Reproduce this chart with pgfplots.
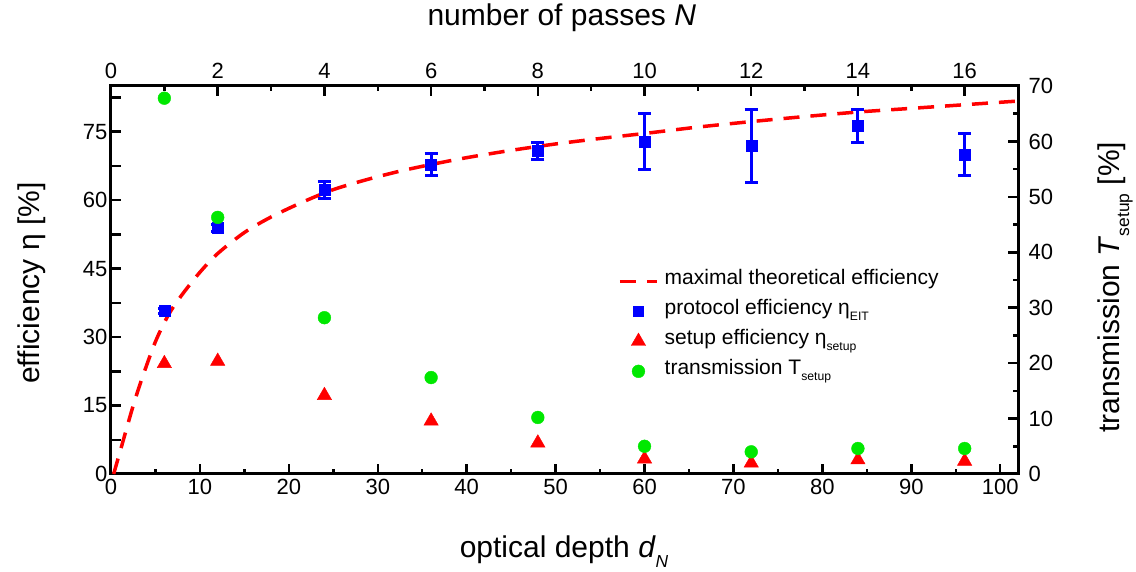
\documentclass[border=0pt]{standalone}
\usepackage{fontspec}
\setmainfont{Liberation Sans}
\usepackage{graphicx}
\usepackage{pgfplots}
\pgfplotsset{compat=1.18}

\definecolor{eitblue}{RGB}{0,0,255}
\definecolor{setupred}{RGB}{255,0,0}
\definecolor{transgreen}{RGB}{0,232,0}

% small lowered subscript in text
\newcommand{\sbs}[1]{\raisebox{-0.6ex}{\scalebox{0.58}{#1}}}

% maximal theoretical efficiency vs optical depth
\pgfplotstableread{
d    eta
0.3  0.0
1.5  8.2
2.5  15.0
3.5  21.0
5.0  29.0
6.5  35.0
8.0  39.3
10   44.2
12   48.3
15   52.9
18   56.3
21.7 59.7
25   62.3
28.6 64.4
32.4 66.3
36   67.8
40   69.3
45   70.9
50   72.3
55   73.5
60   74.6
66   76.0
72   77.2
78   78.3
84   79.3
90   80.1
96   80.9
102  81.7
}\theory

% protocol efficiency with uncertainty
\pgfplotstableread{
d   eta   err
6   35.7  0.6
12  53.9  0.8
24  62.2  1.95
36  67.8  2.4
48  70.8  1.8
60  72.9  6.1
72  71.9  8.0
84  76.2  3.55
96  70.0  4.65
}\protocol

% setup efficiency
\pgfplotstableread{
d   eta
6   24.2
12  24.7
24  17.2
36  11.6
48  6.8
60  3.3
72  2.4
84  3.1
96  2.8
}\setup

% transmission per number of passes
\pgfplotstableread{
N   T
1   67.8
2   46.3
4   28.2
6   17.4
8   10.2
10  5.0
12  4.0
14  4.6
16  4.6
}\transmission

\begin{document}
\begin{tikzpicture}[x=1pt,y=1pt]
\path[use as bounding box] (0,0) rectangle (1136,572);
\pgfplotsset{
  twin/.style={
    at={(111pt,98pt)}, anchor=south west, scale only axis,
    width=907pt, height=388pt,
    tick align=inside,
    major tick length=10pt, minor tick length=5pt,
    tick style={black, line width=2.5pt},
    /pgf/number format/assume math mode=true,
    tick label style={font=\fontsize{22}{26}\selectfont},
    label style={font=\fontsize{30}{36}\selectfont},
    clip=false,
  },
}

\begin{axis}[twin,
  xmin=0, xmax=102, ymin=0, ymax=85,
  axis line style={line width=3pt},
  xtick pos=bottom, ytick pos=left,
  xtick={0,10,...,100}, minor x tick num=1,
  ytick={0,7.5,...,82.5},
  yticklabels={0,,15,,30,,45,,60,,75,},
  xticklabel style={yshift=-2pt},
  yticklabel style={xshift=0pt},
  xlabel={optical depth \textit{d}\sbs{\textit{N}}},
  ylabel={efficiency η [\%]},
  xlabel style={at={(axis description cs:0.4995,-0.2157)}, anchor=base},
  ylabel style={at={(axis description cs:-0.0790,0.492)}, anchor=base},
]
\addplot[setupred, line width=3.5pt, dash pattern=on 16pt off 11pt, smooth] table[x=d, y=eta] {\theory};
\addplot[only marks, mark=square*, mark size=5.5pt, color=eitblue,
  error bars/.cd, y dir=both, y explicit,
  error bar style={line width=3pt},
  error mark options={rotate=90, mark size=6.5pt, line width=3pt}]
  table[x=d, y=eta, y error=err] {\protocol};
\addplot[only marks, mark=triangle*, mark size=8.3pt, color=setupred] table[x=d, y=eta] {\setup};
\end{axis}

\begin{axis}[twin,
  xmin=0, xmax=17, ymin=0, ymax=70,
  axis line style={draw=none},
  xtick pos=top, ytick pos=right,
  xticklabel pos=top, yticklabel pos=right,
  xtick={0,2,...,16}, minor x tick num=1,
  ytick={0,10,...,70}, minor y tick num=1,
  xticklabel style={yshift=4pt},
  yticklabel style={xshift=7pt},
  xlabel={number of passes \textit{N}},
  ylabel={transmission \textit{T}\sbs{setup} [\%]},
  xlabel style={at={(axis description cs:0.497,1.157)}, anchor=base},
  ylabel style={at={(axis description cs:1.112,0.481)}, anchor=base},
  legend image code/.code={\draw[mark repeat=2, mark phase=2, #1] plot coordinates {(0pt,0pt) (18.5pt,0pt) (37pt,0pt)};},
  legend cell align=left,
  legend style={draw=none, fill=none, at={(0.559,0.528)}, anchor=north west,
    font=\fontsize{21}{25}\selectfont, inner sep=0pt, row sep=6pt, column sep=0pt,
    nodes={inner xsep=6pt, inner ysep=0pt, text height=15pt, text depth=9pt}},
]
\addlegendimage{setupred, line width=3.5pt, dash pattern=on 16pt off 11pt}
\addlegendentry{maximal theoretical efficiency}
\addlegendimage{only marks, mark=square*, mark size=5pt, eitblue}
\addlegendentry{protocol efficiency η\sbs{EIT}}
\addlegendimage{only marks, mark=triangle*, mark size=8.3pt, setupred}
\addlegendentry{setup efficiency η\sbs{setup}}
\addplot[only marks, mark=*, mark size=6.4pt, color=transgreen] table[x=N, y=T] {\transmission};
\addlegendentry{transmission T\sbs{setup}}
\end{axis}
\end{tikzpicture}
\end{document}
